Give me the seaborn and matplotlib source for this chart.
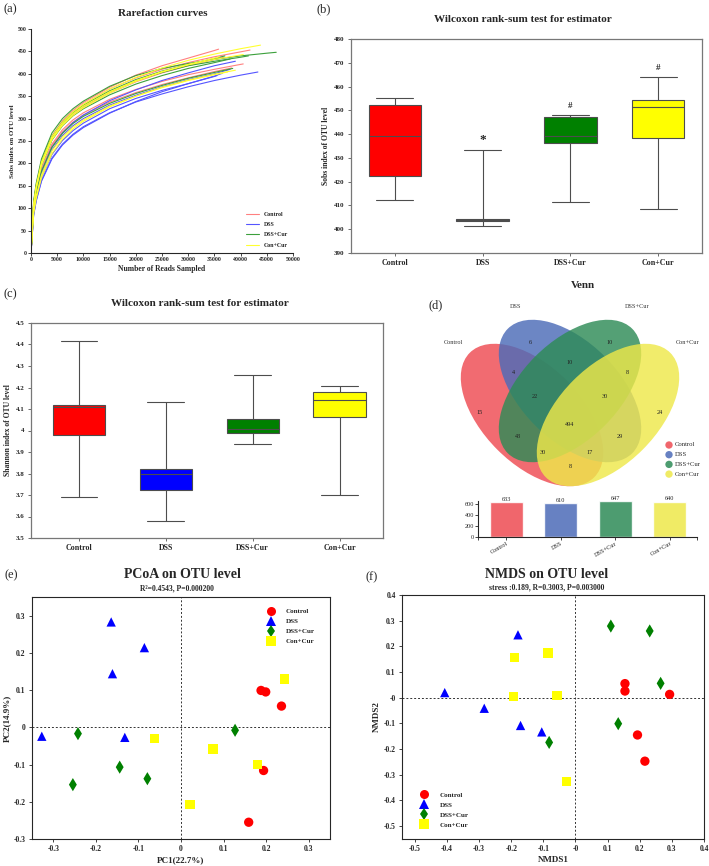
import numpy as np
import pandas as pd
import matplotlib
matplotlib.use("Agg")
import matplotlib.pyplot as plt
from matplotlib.patches import Ellipse
from matplotlib.lines import Line2D
import seaborn as sns

# ---------------- data ----------------
GROUPS = ["Control", "DSS", "DSS+Cur", "Con+Cur"]

# (a) rarefaction curves, Sobs read at common depths, last point = end of curve
rare_depths = [0, 500, 1000, 2000, 4000, 6000, 8000, 10000, 15000, 20000,
               25000, 30000, 35000, 40000, 45000]
rare_control = [
    [0, 112, 152, 205, 262, 295, 318, 336, 370, 397, 418, 435, 452],
    [0, 108, 148, 200, 258, 291, 314, 332, 366, 391, 410, 425, 438, 449],
    [0, 100, 138, 188, 243, 275, 297, 313, 343, 365, 383, 398, 410, 421],
    [0, 98, 135, 185, 240, 270, 292, 308, 337, 358, 376, 391, 405],
    [0, 105, 145, 197, 254, 286, 308, 325, 357, 382, 402, 418, 432],
]
rare_control_end = [(35800, 455), (41800, 453), (40500, 422), (38300, 413), (36800, 437)]
rare_dss = [
    [0, 85, 118, 162, 212, 243, 265, 282, 313, 337, 355, 371, 385, 397],
    [0, 84, 116, 160, 210, 241, 263, 280, 312, 338, 360, 378, 395],
    [0, 92, 128, 176, 230, 262, 284, 300, 330, 352, 371, 387, 400],
    [0, 96, 133, 182, 236, 268, 291, 308, 340, 364, 385, 402, 418],
    [0, 88, 122, 168, 220, 251, 273, 290, 322, 345, 363, 378, 394],
]
rare_dss_end = [(43300, 404), (36500, 401), (38000, 410), (39000, 428), (35500, 396)]
rare_dsscur = [
    [0, 115, 156, 210, 268, 300, 322, 339, 372, 396, 412, 423, 432, 440, 446],
    [0, 108, 149, 201, 258, 290, 312, 328, 360, 385, 403, 418, 428, 437],
    [0, 104, 144, 195, 252, 284, 306, 322, 353, 377, 396, 412, 425],
    [0, 96, 133, 182, 236, 267, 289, 305, 334, 356, 374, 390, 403],
    [0, 110, 150, 203, 260, 292, 314, 330, 362, 387, 406, 421, 434],
]
rare_dsscur_end = [(46800, 448), (41500, 440), (38000, 433), (38500, 412), (37000, 440)]
rare_concur = [
    [0, 110, 150, 203, 260, 292, 315, 332, 366, 392, 413, 430, 444, 456],
    [0, 88, 122, 168, 222, 254, 277, 294, 326, 350, 370, 386, 399],
    [0, 104, 144, 196, 253, 285, 307, 324, 357, 383, 404, 420, 432, 442],
    [0, 92, 127, 174, 228, 259, 281, 297, 328, 350, 369, 385, 398],
    [0, 106, 146, 198, 256, 288, 311, 328, 360, 385, 405, 421, 435],
]
rare_concur_end = [(43800, 464), (39000, 408), (40500, 443), (37500, 404), (36000, 438)]

# (b) Sobs index (5 samples per group)
sobs_control = [412.4, 422.4, 439.2, 452.3, 455.2]
sobs_dss = [401.3, 403.5, 403.8, 404.2, 433.2]
sobs_dsscur = [411.4, 436.2, 439.2, 447.4, 448.2]
sobs_concur = [408.4, 438.4, 451.3, 454.4, 464.2]
sobs_marks = ["", "*", "#", "#"]

# (c) Shannon index
shannon_control = [3.689, 3.978, 4.111, 4.117, 4.416]
shannon_dss = [3.579, 3.723, 3.799, 3.821, 4.131]
shannon_dsscur = [3.936, 3.987, 4.009, 4.053, 4.257]
shannon_concur = [3.702, 4.064, 4.143, 4.181, 4.205]

# (d) Venn
venn_regions = ["15", "6", "10", "24", "4", "10", "8", "22", "30", "494",
                "43", "29", "30", "17", "8"]
venn_totals = [633, 610, 647, 640]

# (e) PCoA
pcoa_control_x = [0.188, 0.199, 0.236, 0.194, 0.159]
pcoa_control_y = [0.099, 0.095, 0.057, -0.116, -0.255]
pcoa_dss_x = [-0.164, -0.086, -0.161, -0.327, -0.132]
pcoa_dss_y = [0.283, 0.214, 0.144, -0.024, -0.027]
pcoa_dsscur_x = [-0.242, -0.144, -0.079, -0.254, 0.127]
pcoa_dsscur_y = [-0.017, -0.107, -0.138, -0.154, -0.008]
pcoa_concur_x = [0.243, -0.063, 0.075, 0.179, 0.021]
pcoa_concur_y = [0.130, -0.030, -0.058, -0.099, -0.207]

# (f) NMDS
nmds_control_x = [0.154, 0.154, 0.293, 0.193, 0.216]
nmds_control_y = [0.055, 0.026, 0.013, -0.145, -0.247]
nmds_dss_x = [-0.407, -0.284, -0.179, -0.171, -0.105]
nmds_dss_y = [0.020, -0.041, 0.245, -0.108, -0.133]
nmds_dsscur_x = [0.110, 0.231, 0.265, 0.133, -0.082]
nmds_dsscur_y = [0.279, 0.260, 0.056, -0.101, -0.174]
nmds_concur_x = [-0.189, -0.086, -0.194, -0.058, -0.027]
nmds_concur_y = [0.157, 0.174, 0.006, 0.009, -0.325]

# ---------------- style ----------------
sns.set_style("ticks")
plt.rcParams["font.family"] = ["Liberation Serif", "DejaVu Serif"]
plt.rcParams["axes.linewidth"] = 0.8

BOX_COLORS = {"Control": "#FF0000", "DSS": "#0000FF", "DSS+Cur": "#008000", "Con+Cur": "#FFFF00"}
LINE_COLORS = {"Control": "#FF8080", "DSS": "#5555FF", "DSS+Cur": "#3CA03C", "Con+Cur": "#FFFF30"}
VENN_COLORS = ["#EE4B52", "#4C6BB8", "#2E8B57", "#EEE84A"]
MARKERS = {"Control": "o", "DSS": "^", "DSS+Cur": "d", "Con+Cur": "s"}

W, H = 709, 866
fig = plt.figure(figsize=(W / 100, H / 100), dpi=100)


def px_axes(x0, y0, x1, y1):
    return fig.add_axes([x0 / W, 1 - y1 / H, (x1 - x0) / W, (y1 - y0) / H])


def fig_text(x, y, s, **kw):
    kw.setdefault("ha", "center")
    kw.setdefault("va", "center")
    fig.text(x / W, 1 - y / H, s, **kw)


def bold_ticks(ax, size):
    for lab in ax.get_xticklabels() + ax.get_yticklabels():
        lab.set_fontweight("bold")
        lab.set_fontsize(size)


# ---------------- (a) rarefaction ----------------
rows = []
for grp, curves, ends in [("Control", rare_control, rare_control_end),
                          ("DSS", rare_dss, rare_dss_end),
                          ("DSS+Cur", rare_dsscur, rare_dsscur_end),
                          ("Con+Cur", rare_concur, rare_concur_end)]:
    for i, (vals, end) in enumerate(zip(curves, ends)):
        sid = f"{grp}_{i}"
        for d, v in zip(rare_depths, vals):
            rows.append((sid, grp, d, v))
        rows.append((sid, grp, end[0], end[1]))
rare_df = pd.DataFrame(rows, columns=["sample", "group", "depth", "sobs"])

ax_a = px_axes(31, 29, 293, 253)
sns.lineplot(data=rare_df, x="depth", y="sobs", hue="group", units="sample",
             estimator=None, palette=LINE_COLORS, hue_order=GROUPS, lw=0.8,
             ax=ax_a, legend=False)
ax_a.set_xlim(0, 50000)
ax_a.set_ylim(0, 500)
ax_a.set_xticks(np.arange(0, 50001, 5000))
ax_a.set_yticks(np.arange(0, 501, 50))
ax_a.tick_params(length=2, width=0.6, pad=1)
bold_ticks(ax_a, 4.2)
ax_a.set_xlabel("Number of Reads Sampled", fontsize=5.5, fontweight="bold", labelpad=2)
ax_a.set_ylabel("Sobs index on OTU level", fontsize=5, fontweight="bold", labelpad=2)
sns.despine(ax=ax_a)
handles = [Line2D([], [], color=LINE_COLORS[g], lw=0.8) for g in GROUPS]
leg = ax_a.legend(handles, GROUPS, loc="lower right", frameon=False,
                  fontsize=4.2, handlelength=2.2, labelspacing=0.9,
                  bbox_to_anchor=(1.0, 0.0))
for t in leg.get_texts():
    t.set_fontweight("bold")
fig_text(163, 14, "Rarefaction curves", fontsize=8, fontweight="bold")
fig_text(10, 9, "(a)", fontsize=9)


# ---------------- (b) / (c) boxplots ----------------
def box_panel(ax, values, ylim, yticks, ylabel, fmt):
    df = pd.DataFrame({"group": np.repeat(GROUPS, 5),
                       "value": np.concatenate(values)})
    sns.boxplot(data=df, x="group", y="value", hue="group", palette=BOX_COLORS,
                order=GROUPS, hue_order=GROUPS, whis=(0, 100), width=0.6,
                saturation=1, linecolor="#4d4d4d", linewidth=0.8,
                capwidths=0.42, legend=False, ax=ax)
    ax.set_xlim(-0.5, 3.5)
    ax.set_ylim(*ylim)
    ax.set_yticks(yticks)
    ax.set_yticklabels([fmt(v) for v in yticks])
    ax.set_xlabel("")
    ax.set_ylabel(ylabel, fontsize=5.5, fontweight="bold", labelpad=3)
    ax.tick_params(length=2.5, width=0.6, pad=2, color="#555555")
    bold_ticks(ax, 5)
    for lab in ax.get_xticklabels():
        lab.set_fontsize(5.8)
    for sp in ax.spines.values():
        sp.set_color("#777777")
        sp.set_linewidth(0.9)


ax_b = px_axes(351, 39, 702, 253)
box_panel(ax_b, [sobs_control, sobs_dss, sobs_dsscur, sobs_concur],
          (390, 480), np.arange(390, 481, 10), "Sobs index of OTU level",
          lambda v: f"{v:g}")
for i, (mark, vals) in enumerate(zip(sobs_marks, [sobs_control, sobs_dss, sobs_dsscur, sobs_concur])):
    if mark:
        ax_b.text(i, max(vals) + 2.0, mark, ha="center", va="bottom",
                  fontsize=9.5 if mark == "*" else 6.5, fontweight="bold")
fig_text(523, 20, "Wilcoxon rank-sum test for estimator", fontsize=8, fontweight="bold")
fig_text(324, 9, "(b)", fontsize=9)

ax_c = px_axes(31, 323, 383, 538)
box_panel(ax_c, [shannon_control, shannon_dss, shannon_dsscur, shannon_concur],
          (3.5, 4.5), np.round(np.arange(3.5, 4.51, 0.1), 1),
          "Shannon index of OTU level", lambda v: f"{v:g}")
ax_c.set_xlim(-0.55, 3.5)
fig_text(200, 303, "Wilcoxon rank-sum test for estimator", fontsize=8, fontweight="bold")
fig_text(10, 294, "(c)", fontsize=9)

# ---------------- (d) Venn ----------------
ax_v = px_axes(440, 290, 709, 490)
ax_v.set_xlim(440, 709)
ax_v.set_ylim(490, 290)
ax_v.axis("off")
ell_specs = [((532, 415), 45), ((570, 391), 45), ((570, 391), -45), ((608, 415), -45)]
for (c, ang), col in zip(ell_specs, VENN_COLORS):
    ax_v.add_patch(Ellipse(c, 176, 98, angle=ang, facecolor=col, alpha=0.82,
                           edgecolor="none"))
region_pos = [(480, 412), (530, 342), (610, 342), (660, 412), (513, 372),
              (570, 362), (627, 372), (535, 397), (605, 397), (570, 424),
              (518, 437), (620, 437), (543, 452), (590, 452), (570, 466)]
for (x, y), s in zip(region_pos, venn_regions):
    ax_v.text(x, y, s, ha="center", va="center", fontsize=4.5, color="#222222")
for (x, y), s in zip([(453, 342), (516, 306), (637, 306), (688, 342)], GROUPS):
    ax_v.text(x, y, s, ha="center", va="center", fontsize=4.5, color="#333333")
for i, (g, col) in enumerate(zip(GROUPS, VENN_COLORS)):
    ax_v.scatter([669], [445 + i * 9.7], s=28, color=col, alpha=0.85, edgecolor="none")
    ax_v.text(675, 445 + i * 9.7, g, ha="left", va="center", fontsize=4.8)
fig_text(583, 285, "Venn", fontsize=8, fontweight="bold")
fig_text(436, 305, "(d)", fontsize=9)

ax_d = px_axes(478, 501, 697, 537)
bar_df = pd.DataFrame({"group": GROUPS, "total": venn_totals})
sns.barplot(data=bar_df, x="group", y="total", hue="group", palette=VENN_COLORS,
            order=GROUPS, width=0.6, alpha=0.85, saturation=1, legend=False, ax=ax_d)
for i, v in enumerate(venn_totals):
    ax_d.text(i, v + 5, str(v), ha="center", va="bottom", fontsize=4.5)
ax_d.set_ylim(0, 650)
ax_d.set_xlim(-0.52, 3.5)
ax_d.set_yticks([0, 200, 400, 600])
ax_d.set_xticks([-0.52, 0, 1, 2, 3, 3.5])
ax_d.set_xticklabels(["", "Control", "DSS", "DSS+Cur", "Con+Cur", ""],
                     rotation=30, ha="right", rotation_mode="anchor")
ax_d.set_xlabel("")
ax_d.set_ylabel("")
ax_d.tick_params(length=2, width=0.6, pad=1, labelsize=4.5)
sns.despine(ax=ax_d)


# ---------------- (e) / (f) ordination ----------------
def ord_panel(ax, xs, ys, xlim, ylim, xticks, yticks, xlabel, ylabel, loc, anchor):
    df = pd.DataFrame({"x": np.concatenate(xs), "y": np.concatenate(ys),
                       "group": np.repeat(GROUPS, 5)})
    ax.axvline(0, color="#333333", ls=(0, (2, 2)), lw=0.7, zorder=1)
    ax.axhline(0, color="#333333", ls=(0, (2, 2)), lw=0.7, zorder=1)
    sns.scatterplot(data=df, x="x", y="y", hue="group", style="group",
                    hue_order=GROUPS, style_order=GROUPS, palette=BOX_COLORS,
                    markers=MARKERS, s=45, edgecolor="none", legend=False,
                    ax=ax, zorder=3)
    ax.set_xlim(*xlim)
    ax.set_ylim(*ylim)
    ax.set_xticks(xticks)
    ax.set_yticks(yticks)
    ax.set_xticklabels([f"{v:g}" for v in xticks])
    ax.set_yticklabels([f"{v:g}" for v in yticks])
    ax.set_xlabel(xlabel, fontsize=6.5, fontweight="bold", labelpad=2)
    ax.set_ylabel(ylabel, fontsize=6.5, fontweight="bold", labelpad=2)
    ax.tick_params(length=2.5, width=0.6, pad=2)
    bold_ticks(ax, 5.5)
    handles = [Line2D([], [], ls="none", marker=MARKERS[g], color=BOX_COLORS[g],
                      markersize=6.5, markeredgewidth=0) for g in GROUPS]
    leg = ax.legend(handles, GROUPS, loc=loc, bbox_to_anchor=anchor, frameon=False,
                    fontsize=5, handletextpad=1.2, labelspacing=0.6)
    for t in leg.get_texts():
        t.set_fontweight("bold")


ax_e = px_axes(32, 597, 330, 839)
ord_panel(ax_e, [pcoa_control_x, pcoa_dss_x, pcoa_dsscur_x, pcoa_concur_x],
          [pcoa_control_y, pcoa_dss_y, pcoa_dsscur_y, pcoa_concur_y],
          (-0.35, 0.35), (-0.3, 0.35),
          np.round(np.arange(-0.3, 0.31, 0.1), 1), np.round(np.arange(-0.3, 0.31, 0.1), 1),
          "PC1(22.7%)", "PC2(14.9%)", "upper right", (0.97, 0.98))
fig_text(182, 575, "PCoA on OTU level", fontsize=10, fontweight="bold")
fig_text(177, 588, "R²=0.4543, P=0.000200", fontsize=5.5, fontweight="bold")
fig_text(11, 575, "(e)", fontsize=9)

ax_f = px_axes(402, 595, 704, 839)
ord_panel(ax_f, [nmds_control_x, nmds_dss_x, nmds_dsscur_x, nmds_concur_x],
          [nmds_control_y, nmds_dss_y, nmds_dsscur_y, nmds_concur_y],
          (-0.54, 0.4), (-0.55, 0.4),
          np.round(np.arange(-0.5, 0.41, 0.1), 1), np.round(np.arange(-0.5, 0.41, 0.1), 1),
          "NMDS1", "NMDS2", "lower left", (0.03, 0.02))
fig_text(547, 575, "NMDS on OTU level", fontsize=10, fontweight="bold")
fig_text(547, 587, "stress :0.189, R=0.3003, P=0.003000", fontsize=5.5, fontweight="bold")
fig_text(372, 577, "(f)", fontsize=9)

fig.savefig("out.png", dpi=100)
